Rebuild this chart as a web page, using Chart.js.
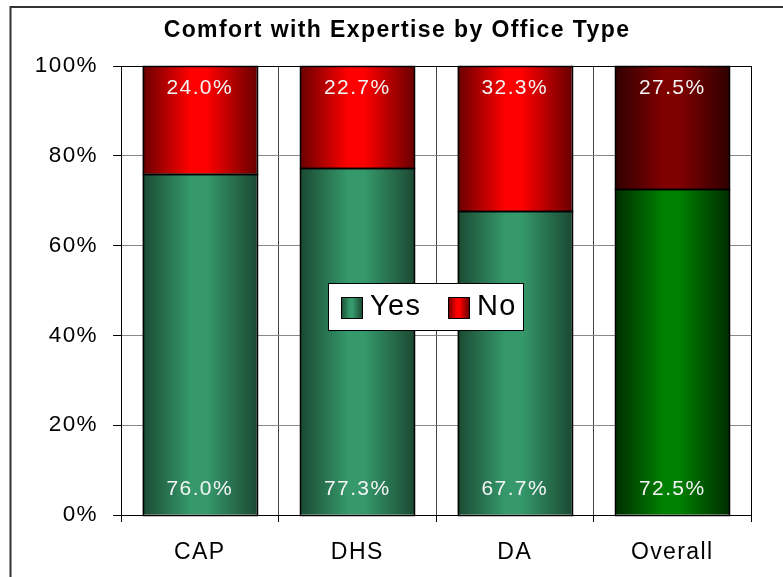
<!DOCTYPE html>
<html>
<head>
<meta charset="utf-8">
<script src="https://cdn.jsdelivr.net/npm/chart.js@4.4.0/dist/chart.umd.min.js"></script>
<style>
  html, body { margin: 0; padding: 0; background: #fff; }
  #box { width: 783px; height: 577px; }
</style>
</head>
<body>
<div id="box"><canvas id="myChart"></canvas></div>
<script>
// data
const labels = ['CAP', 'DHS', 'DA', 'Overall']
const yesValues = [76.0, 77.3, 67.7, 72.5]
const noValues = [24.0, 22.7, 32.3, 27.5]
const seriesNames = ['Yes', 'No']
const chartTitle = 'Comfort with Expertise by Office Type'

// colours (edge / centre of the cylinder shading)
const yesEdge = ['#1b4a33', '#1b4a33', '#1b4a33', '#002e00']
const yesMid = ['#35996b', '#35996b', '#35996b', '#008000']
const noEdge = ['#6a0000', '#6a0000', '#6a0000', '#300000']
const noMid = ['#ff0000', '#ff0000', '#ff0000', '#800000']

const barPct = 0.724
const FONT = '"Liberation Sans", Arial, sans-serif'

function shade(ctx, x0, x1, edge, mid) {
    const g = ctx.createLinearGradient(x0, 0, x1, 0)
    g.addColorStop(0, edge)
    g.addColorStop(0.42, mid)
    g.addColorStop(0.56, mid)
    g.addColorStop(1, edge)
    return g
}

function barGradient(c, edges, mids) {
    const chart = c.chart
    const area = chart.chartArea
    const i = c.dataIndex
    if (!area || i === undefined) return mids[0]
    const cx = chart.scales.x.getPixelForValue(i)
    const w = (area.right - area.left) / labels.length * barPct
    return shade(chart.ctx, cx - w / 2, cx + w / 2, edges[i], mids[i])
}

const extras = {
    id: 'extras',
    beforeDraw(chart) {
        const ctx = chart.ctx
        ctx.letterSpacing = '1.4px'
        ctx.save()
        // outer frame
        ctx.strokeStyle = '#333'
        ctx.lineWidth = 2
        ctx.strokeRect(10.5, 7, 900, 900)
        // title
        ctx.fillStyle = '#000'
        ctx.font = 'bold 23px ' + FONT
        ctx.textAlign = 'center'
        ctx.textBaseline = 'middle'
        ctx.fillText(chartTitle, 397, 31)
        ctx.restore()
    },
    afterDatasetsDraw(chart) {
        const ctx = chart.ctx
        const a = chart.chartArea
        ctx.save()
        ctx.strokeStyle = '#000'
        ctx.lineWidth = 1
        ctx.strokeRect(a.left + 0.5, a.top + 0.5, a.right - a.left, a.bottom - a.top)

        // bar outlines
        ctx.lineWidth = 1.5
        ;[0, 1].forEach(d => {
            chart.getDatasetMeta(d).data.forEach(el => {
                const left = Math.round(el.x - el.width / 2)
                const right = Math.round(el.x + el.width / 2)
                const top = Math.round(el.y)
                const bottom = Math.round(el.base)
                ctx.strokeRect(left + 0.5, top + 0.5, right - left, bottom - top)
            })
        })

        // value labels
        ctx.fillStyle = '#f4f4f4'
        ctx.font = '21px ' + FONT
        ctx.textAlign = 'center'
        ctx.textBaseline = 'middle'
        chart.getDatasetMeta(0).data.forEach((el, i) => {
            ctx.fillText(yesValues[i].toFixed(1) + '%', el.x, el.base - 25)
        })
        chart.getDatasetMeta(1).data.forEach((el, i) => {
            ctx.fillText(noValues[i].toFixed(1) + '%', el.x, el.y + 22)
        })
        ctx.restore()
    },
    afterDraw(chart) {
        // legend box in the middle of the plot
        const ctx = chart.ctx
        ctx.save()
        ctx.fillStyle = '#fff'
        ctx.fillRect(328.5, 283.5, 195, 47)
        ctx.strokeStyle = '#000'
        ctx.lineWidth = 1
        ctx.strokeRect(328.5, 283.5, 195, 47)

        const items = [
            { name: seriesNames[0], x: 341, edge: yesEdge[0], mid: yesMid[0] },
            { name: seriesNames[1], x: 448, edge: noEdge[0], mid: noMid[0] }
        ]
        ctx.font = '29px ' + FONT
        ctx.textAlign = 'left'
        ctx.textBaseline = 'alphabetic'
        items.forEach(it => {
            ctx.fillStyle = shade(ctx, it.x, it.x + 21, it.edge, it.mid)
            ctx.fillRect(it.x, 297, 21, 21)
            ctx.strokeStyle = '#000'
            ctx.strokeRect(it.x + 0.5, 297.5, 21, 21)
            ctx.fillStyle = '#000'
            ctx.fillText(it.name, it.x + 29, 315)
        })
        ctx.restore()
    }
}

const ctx = document.getElementById('myChart')

const myChart = new Chart(ctx, {
    type: 'bar',
    data: {
        labels: labels,
        datasets: [{
            label: seriesNames[0],
            data: yesValues,
            backgroundColor: c => barGradient(c, yesEdge, yesMid),
            borderWidth: 0,
            inflateAmount: 0,
            barPercentage: barPct,
            categoryPercentage: 1
        }, {
            label: seriesNames[1],
            data: noValues,
            backgroundColor: c => barGradient(c, noEdge, noMid),
            borderWidth: 0,
            inflateAmount: 0,
            barPercentage: barPct,
            categoryPercentage: 1
        }]
    },
    options: {
        responsive: true,
        maintainAspectRatio: false,
        animation: false,
        layout: {
            padding: { left: 0, right: 32, top: 66, bottom: 0 }
        },
        plugins: {
            legend: { display: false },
            tooltip: { enabled: false },
            title: { display: false }
        },
        scales: {
            x: {
                stacked: true,
                grid: { offset: true, color: '#444', tickColor: '#000', tickLength: 7 },
                border: { color: '#000' },
                ticks: { color: '#000', padding: 17, font: { family: FONT, size: 23 } },
                afterFit: s => { s.height = 62 }
            },
            y: {
                stacked: true,
                min: 0,
                max: 100,
                grid: { color: '#888', tickColor: '#000', tickLength: 8 },
                border: { color: '#000' },
                ticks: {
                    stepSize: 20,
                    color: '#000',
                    padding: 15,
                    font: { family: FONT, size: 22.5 },
                    callback: v => v + '%'
                },
                afterFit: s => { s.width = 121 }
            }
        }
    },
    plugins: [extras]
})
</script>
</body>
</html>
